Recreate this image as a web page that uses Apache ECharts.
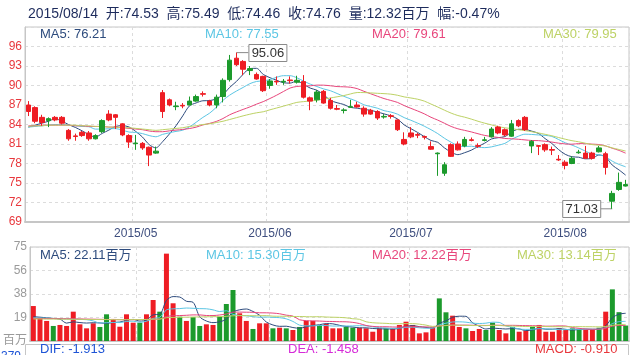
<!DOCTYPE html>
<html>
<head>
<meta charset="utf-8">
<title>K线图</title>
<script src="https://cdn.jsdelivr.net/npm/echarts@6/dist/echarts.min.js"></script>
<style>
html, body { margin: 0; padding: 0; background: #fff; }
#main { width: 640px; height: 355px; }
</style>
</head>
<body>
<div id="main"></div>
<script>
const dates = [
    '2015/04/09', '2015/04/10', '2015/04/13', '2015/04/14', '2015/04/15', '2015/04/16', '2015/04/17', '2015/04/20',
    '2015/04/21', '2015/04/22', '2015/04/23', '2015/04/24', '2015/04/27', '2015/04/28', '2015/04/29', '2015/04/30',
    '2015/05/04', '2015/05/05', '2015/05/06', '2015/05/07', '2015/05/08', '2015/05/11', '2015/05/12', '2015/05/13',
    '2015/05/14', '2015/05/15', '2015/05/18', '2015/05/19', '2015/05/20', '2015/05/21', '2015/05/22', '2015/05/25',
    '2015/05/26', '2015/05/27', '2015/05/28', '2015/05/29',
    '2015/06/01', '2015/06/02', '2015/06/03', '2015/06/04', '2015/06/05', '2015/06/08', '2015/06/09', '2015/06/10',
    '2015/06/11', '2015/06/12', '2015/06/15', '2015/06/16', '2015/06/17', '2015/06/18', '2015/06/19', '2015/06/23',
    '2015/06/24', '2015/06/25', '2015/06/26', '2015/06/29', '2015/06/30',
    '2015/07/01', '2015/07/02', '2015/07/03', '2015/07/06', '2015/07/07', '2015/07/08', '2015/07/09', '2015/07/10',
    '2015/07/13', '2015/07/14', '2015/07/15', '2015/07/16', '2015/07/17', '2015/07/20', '2015/07/21', '2015/07/22',
    '2015/07/23', '2015/07/24', '2015/07/27', '2015/07/28', '2015/07/29', '2015/07/30', '2015/07/31',
    '2015/08/03', '2015/08/04', '2015/08/05', '2015/08/06', '2015/08/07', '2015/08/10', '2015/08/11', '2015/08/12',
    '2015/08/13', '2015/08/14'
];

// [open, close, low, high]
const kData = [
    [87.0, 86.0, 85.3, 87.6], [86.6, 84.5, 84.2, 86.8], [85.1, 84.3, 83.8, 85.5], [84.6, 84.9, 83.6, 85.1],
    [85.1, 84.7, 84.5, 85.3], [85.1, 84.2, 84.0, 85.3], [83.1, 81.8, 81.5, 83.3], [82.25, 82.15, 81.5, 82.6],
    [82.8, 82.3, 82.1, 83.0], [82.7, 81.8, 81.5, 83.0], [81.8, 82.3, 81.7, 82.5], [82.9, 84.6, 82.7, 84.8],
    [85.6, 84.7, 84.5, 86.2], [85.5, 85.1, 83.3, 85.6], [84.1, 82.4, 82.2, 84.2], [82.3, 81.3, 80.4, 82.5],
    [81.05, 81.15, 80.1, 82.4], [81.1, 80.4, 80.1, 81.3], [80.5, 79.3, 77.6, 80.6], [79.6, 79.9, 79.5, 80.6],
    [88.9, 86.0, 85.0, 89.3], [87.8, 87.0, 86.8, 88.0], [86.75, 86.85, 86.2, 87.5], [86.95, 86.85, 86.5, 87.3],
    [87.0, 87.6, 87.0, 88.3], [87.6, 88.3, 87.5, 88.6], [88.75, 88.65, 88.3, 89.1], [87.6, 87.0, 86.8, 87.8],
    [87.0, 88.2, 86.5, 88.6], [88.3, 90.8, 87.4, 91.1], [90.9, 93.9, 90.6, 94.7], [94.2, 93.2, 93.0, 95.06],
    [93.7, 92.5, 91.6, 93.9], [92.3, 92.6, 91.6, 93.0], [91.7, 91.0, 90.9, 92.0], [91.4, 89.2, 89.0, 91.5],
    [90.0, 90.7, 89.5, 91.0], [90.65, 90.55, 90.1, 91.4], [90.55, 90.65, 90.1, 91.0], [90.85, 90.75, 90.3, 91.4],
    [90.5, 90.8, 90.3, 91.5], [90.6, 88.2, 88.0, 91.6], [88.1, 87.6, 86.2, 88.3], [87.8, 89.0, 87.4, 89.3],
    [89.1, 87.3, 87.2, 89.3], [87.7, 86.5, 86.3, 88.1], [86.45, 86.35, 86.2, 87.0], [86.15, 86.25, 85.7, 86.5],
    [86.65, 86.75, 86.6, 87.8], [87.0, 86.7, 86.6, 87.5], [86.5, 85.6, 85.2, 86.8], [86.2, 85.6, 85.5, 86.4],
    [86.0, 85.0, 84.7, 86.2], [85.15, 85.25, 84.9, 85.6], [85.35, 85.25, 84.9, 85.6], [84.7, 83.2, 83.0, 84.8],
    [81.7, 81.0, 80.8, 82.8], [82.7, 82.1, 81.9, 83.6], [82.45, 82.35, 81.9, 82.7], [82.15, 82.05, 81.7, 82.3],
    [80.6, 80.2, 80.1, 81.4], [79.5, 79.6, 76.1, 79.7], [76.5, 77.8, 76.1, 78.2], [80.9, 79.1, 79.0, 81.1],
    [81.0, 80.1, 80.0, 81.4], [80.7, 81.7, 80.5, 82.1], [81.65, 81.55, 81.4, 82.0], [80.75, 80.65, 80.4, 81.1],
    [81.55, 81.65, 81.4, 82.1], [82.1, 83.3, 82.0, 83.6], [83.6, 82.7, 82.5, 83.8], [83.2, 82.4, 82.2, 83.4],
    [82.2, 84.1, 82.1, 84.7], [84.6, 83.8, 83.6, 84.8], [85.1, 83.2, 83.0, 85.3], [80.7, 81.4, 79.6, 81.6],
    [80.75, 80.65, 79.3, 80.8], [80.9, 80.1, 79.8, 81.1], [80.15, 80.05, 79.3, 80.6], [78.65, 78.55, 78.4, 79.3],
    [78.2, 77.7, 77.1, 78.5], [78.0, 78.8, 77.9, 79.1], [79.65, 79.75, 79.5, 80.1], [79.6, 78.8, 78.8, 80.7],
    [79.6, 78.8, 78.6, 79.8], [79.8, 80.4, 79.7, 80.7], [79.5, 77.4, 76.3, 79.8], [72.2, 73.4, 71.03, 73.8],
    [74.0, 75.1, 73.8, 76.6], [74.53, 74.76, 74.46, 75.49]
];

// 成交量 (百万)
const volumes = [
    27.9, 18.6, 16.0, 12.0, 12.8, 12.0, 23.4, 13.3, 10.1, 14.1,
    11.2, 21.3, 17.6, 11.4, 21.3, 14.6, 14.6, 21.3, 32.7, 23.4,
    69.7, 30.1, 19.4, 16.0, 19.1, 12.0, 13.3, 12.8, 19.4, 29.5,
    40.7, 22.1, 16.0, 9.6, 14.1, 14.1, 10.1, 10.6, 10.1, 8.8,
    11.2, 16.0, 16.0, 12.8, 13.6, 10.1, 10.1, 11.2, 10.6, 10.6,
    10.1, 7.4, 10.1, 10.1, 10.1, 12.8, 15.4, 12.8, 6.1, 6.9,
    10.6, 34.0, 22.9, 20.2, 11.2, 10.1, 8.0, 9.6, 8.8, 14.6,
    8.8, 6.1, 11.2, 7.4, 8.0, 11.4, 12.8, 7.4, 7.4, 10.1,
    8.8, 10.1, 9.6, 8.8, 8.8, 10.6, 23.4, 41.2, 23.0, 12.32
];

// 图上读出的前几天均线值 (缺少更早的数据)
const ma5Head = [83.6, 83.9, 84.2, 84.5];
const ma10Head = [83.6, 83.7, 83.8, 83.9, 84.0, 84.0, 83.9, 83.8, 83.7];
const ma20Head = [83.8, 83.8, 83.9, 83.9, 83.9, 83.9, 83.9, 83.8, 83.8, 83.7, 83.7, 83.7, 83.6, 83.6, 83.5, 83.4, 83.3, 83.2, 83.0];
const ma30Head = [83.7, 83.8, 83.8, 83.9, 83.9, 83.9, 83.9, 83.9, 83.8, 83.8, 83.7, 83.7, 83.6, 83.6, 83.5,
    83.5, 83.4, 83.3, 83.2, 83.1, 83.2, 83.3, 83.4, 83.5, 83.7, 83.8, 84.0, 84.1, 84.3];
const vma5Head = [19.4, 19.0, 18.5, 18.0];
const vma10Head = [18.6, 18.4, 18.2, 18.0, 17.8, 17.6, 17.4, 17.2, 17.0];
const vma20Head = [18.0, 18.0, 17.9, 17.9, 17.8, 17.8, 17.7, 17.6, 17.5, 17.4, 17.3, 17.2, 17.1, 17.0, 17.0, 17.0, 17.1, 17.2, 17.3];
const vma30Head = [17.6, 17.6, 17.5, 17.5, 17.4, 17.4, 17.3, 17.3, 17.2, 17.2, 17.1, 17.1, 17.0, 17.0, 17.0,
    17.1, 17.1, 17.2, 17.4, 17.5, 18.6, 18.8, 18.9, 19.0, 19.1, 19.2, 19.3, 19.4, 19.5];

const headerText = '2015/08/14  开:74.53  高:75.49  低:74.46  收:74.76  量:12.32百万  幅:-0.47%';
const maLegend = ['MA5: 76.21', 'MA10: 77.55', 'MA20: 79.61', 'MA30: 79.95'];
const volLegend = ['MA5: 22.11百万', 'MA10: 15.30百万', 'MA20: 12.22百万', 'MA30: 13.14百万'];
const macdLegend = ['DIF: -1.913', 'DEA: -1.458', 'MACD: -0.910'];

const UP = '#1c9a2c';
const DOWN = '#ee1d24';
const maColors = ['#2d4b7d', '#5cc6e4', '#e8467c', '#bdd265'];
const FONT = '"Liberation Sans", Arial, "Noto Sans CJK SC", sans-serif';

function calcMA(n, values, head) {
    let result = [];
    for (let i = 0; i < values.length; i++) {
        if (i < n - 1) {
            result.push(head[i]);
            continue;
        }
        let sum = 0;
        for (let j = i - n + 1; j <= i; j++) {
            sum += values[j];
        }
        result.push(+(sum / n).toFixed(2));
    }
    return result;
}

function isMonthStart(index) {
    return index > 0 && dates[index].slice(5, 7) !== dates[index - 1].slice(5, 7);
}

const closes = kData.map(d => d[1]);
const priceMA = [
    calcMA(5, closes, ma5Head),
    calcMA(10, closes, ma10Head),
    calcMA(20, closes, ma20Head),
    calcMA(30, closes, ma30Head)
];
const volMA = [
    calcMA(5, volumes, vma5Head),
    calcMA(10, volumes, vma10Head),
    calcMA(20, volumes, vma20Head),
    calcMA(30, volumes, vma30Head)
];

const volBars = volumes.map((v, i) => ({
    value: v,
    itemStyle: { color: kData[i][1] >= kData[i][0] ? UP : DOWN }
}));

const splitStyle = { color: '#dcdcdc', type: [3, 3], width: 1 };

function maSeries(data, idx, axis) {
    return {
        type: 'line',
        data: data,
        xAxisIndex: axis,
        yAxisIndex: axis,
        showSymbol: false,
        smooth: 0.3,
        silent: true,
        lineStyle: { color: maColors[idx], width: 1 },
        z: 3
    };
}

const chart = echarts.init(document.getElementById('main'), null, { renderer: 'canvas' });

let option = {
    animation: false,
    backgroundColor: '#fff',
    textStyle: { fontFamily: FONT },
    grid: [
        { left: 25, right: 11, top: 27, height: 195, show: true, borderColor: '#c6c6c6', borderWidth: 1 },
        { left: 25, right: 11, top: 247, height: 94, show: true, borderColor: '#c6c6c6', borderWidth: 1 }
    ],
    xAxis: [
        {
            type: 'category', gridIndex: 0, data: dates, boundaryGap: true,
            axisLine: { show: true, lineStyle: { color: '#c6c6c6', width: 2 } },
            axisTick: { show: false },
            axisLabel: {
                interval: isMonthStart, color: '#3e4e7e', fontSize: 12, margin: 6, fontFamily: FONT,
                formatter: v => v.slice(0, 7)
            },
            splitLine: { show: true, interval: isMonthStart, lineStyle: splitStyle }
        },
        {
            type: 'category', gridIndex: 1, data: dates, boundaryGap: true,
            axisLine: { show: true, lineStyle: { color: '#c6c6c6', width: 2 } },
            axisTick: { show: false },
            axisLabel: { show: false },
            splitLine: { show: true, interval: isMonthStart, lineStyle: splitStyle }
        }
    ],
    yAxis: [
        {
            type: 'value', gridIndex: 0, min: 69, max: 99, interval: 3,
            axisLine: { show: true, lineStyle: { color: '#c6c6c6' } },
            axisTick: { show: false },
            axisLabel: { color: '#e8383d', fontSize: 12, margin: 3, showMaxLabel: false, fontFamily: FONT },
            splitLine: { show: true, lineStyle: splitStyle }
        },
        {
            type: 'value', gridIndex: 1, min: 0, max: 75, interval: 18.75,
            axisLine: { show: true, lineStyle: { color: '#c6c6c6' } },
            axisTick: { show: false },
            axisLabel: {
                color: '#9a9a9a', fontSize: 12, margin: 3, fontFamily: FONT,
                formatter: v => v === 0 ? '百万' : String(Math.round(v))
            },
            splitLine: { show: true, lineStyle: splitStyle }
        }
    ],
    series: [
        {
            type: 'candlestick',
            data: kData,
            xAxisIndex: 0,
            yAxisIndex: 0,
            barWidth: 5,
            itemStyle: { color: UP, color0: DOWN, borderColor: UP, borderColor0: DOWN, borderWidth: 1 },
            z: 4
        },
        maSeries(priceMA[0], 0, 0),
        maSeries(priceMA[1], 1, 0),
        maSeries(priceMA[2], 2, 0),
        maSeries(priceMA[3], 3, 0),
        {
            type: 'bar',
            data: volBars,
            xAxisIndex: 1,
            yAxisIndex: 1,
            barWidth: 5,
            z: 2
        },
        maSeries(volMA[0], 0, 1),
        maSeries(volMA[1], 1, 1),
        maSeries(volMA[2], 2, 1),
        maSeries(volMA[3], 3, 1)
    ]
};
chart.setOption(option);

// 文字、图例和最高/最低价标注
function txt(x, y, text, color, size) {
    return {
        type: 'text', x: x, y: y, silent: true,
        style: { text: text, fill: color, font: size + 'px ' + FONT, textVerticalAlign: 'middle' }
    };
}

function priceTag(idx, value, side) {
    const p = chart.convertToPixel({ xAxisIndex: 0, yAxisIndex: 0 }, [idx, value]);
    const w = 38, h = 17, gap = 12;
    const bx = side === 'right' ? p[0] + gap : p[0] - gap - w;
    const lineEnd = side === 'right' ? bx : bx + w;
    return [
        { type: 'line', silent: true, shape: { x1: p[0], y1: p[1], x2: lineEnd, y2: p[1] }, style: { stroke: '#8a8a8a', lineWidth: 1 } },
        { type: 'rect', silent: true, shape: { x: bx + 0.5, y: Math.round(p[1] - h / 2) + 0.5, width: w, height: h }, style: { fill: '#fff', stroke: '#8a8a8a', lineWidth: 1 } },
        { type: 'text', silent: true, x: bx + w / 2 + 0.5, y: p[1] + 0.5, style: { text: value.toFixed(2), fill: '#333', font: '13px ' + FONT, textAlign: 'center', textVerticalAlign: 'middle' } }
    ];
}

let hiIdx = 0, loIdx = 0;
kData.forEach((d, i) => {
    if (d[3] > kData[hiIdx][3]) hiIdx = i;
    if (d[2] < kData[loIdx][2]) loIdx = i;
});

let graphics = [];
graphics.push(txt(28, 14, headerText, '#1d2b5c', 14));
const legendX = [40, 205, 372, 543];
const volLegendX = [40, 206, 372, 517];
maLegend.forEach((t, i) => graphics.push(txt(legendX[i], 34, t, maColors[i], 13)));
volLegend.forEach((t, i) => graphics.push(txt(volLegendX[i], 255, t, maColors[i], 13)));
graphics.push({ type: 'rect', silent: true, shape: { x: 25.5, y: 344.5, width: 603, height: 40 }, style: { fill: 'none', stroke: '#c6c6c6' } });
graphics.push(txt(40, 349, macdLegend[0], '#1f55d6', 13));
graphics.push(txt(288, 349, macdLegend[1], '#d62ad8', 13));
graphics.push(txt(535, 349, macdLegend[2], '#e8383d', 13));
graphics.push(txt(1, 357, '379', '#1f55d6', 12));
graphics = graphics.concat(priceTag(hiIdx, kData[hiIdx][3], 'right'));
graphics = graphics.concat(priceTag(loIdx, kData[loIdx][2], 'left'));

chart.setOption({ graphic: graphics });
</script>
</body>
</html>
